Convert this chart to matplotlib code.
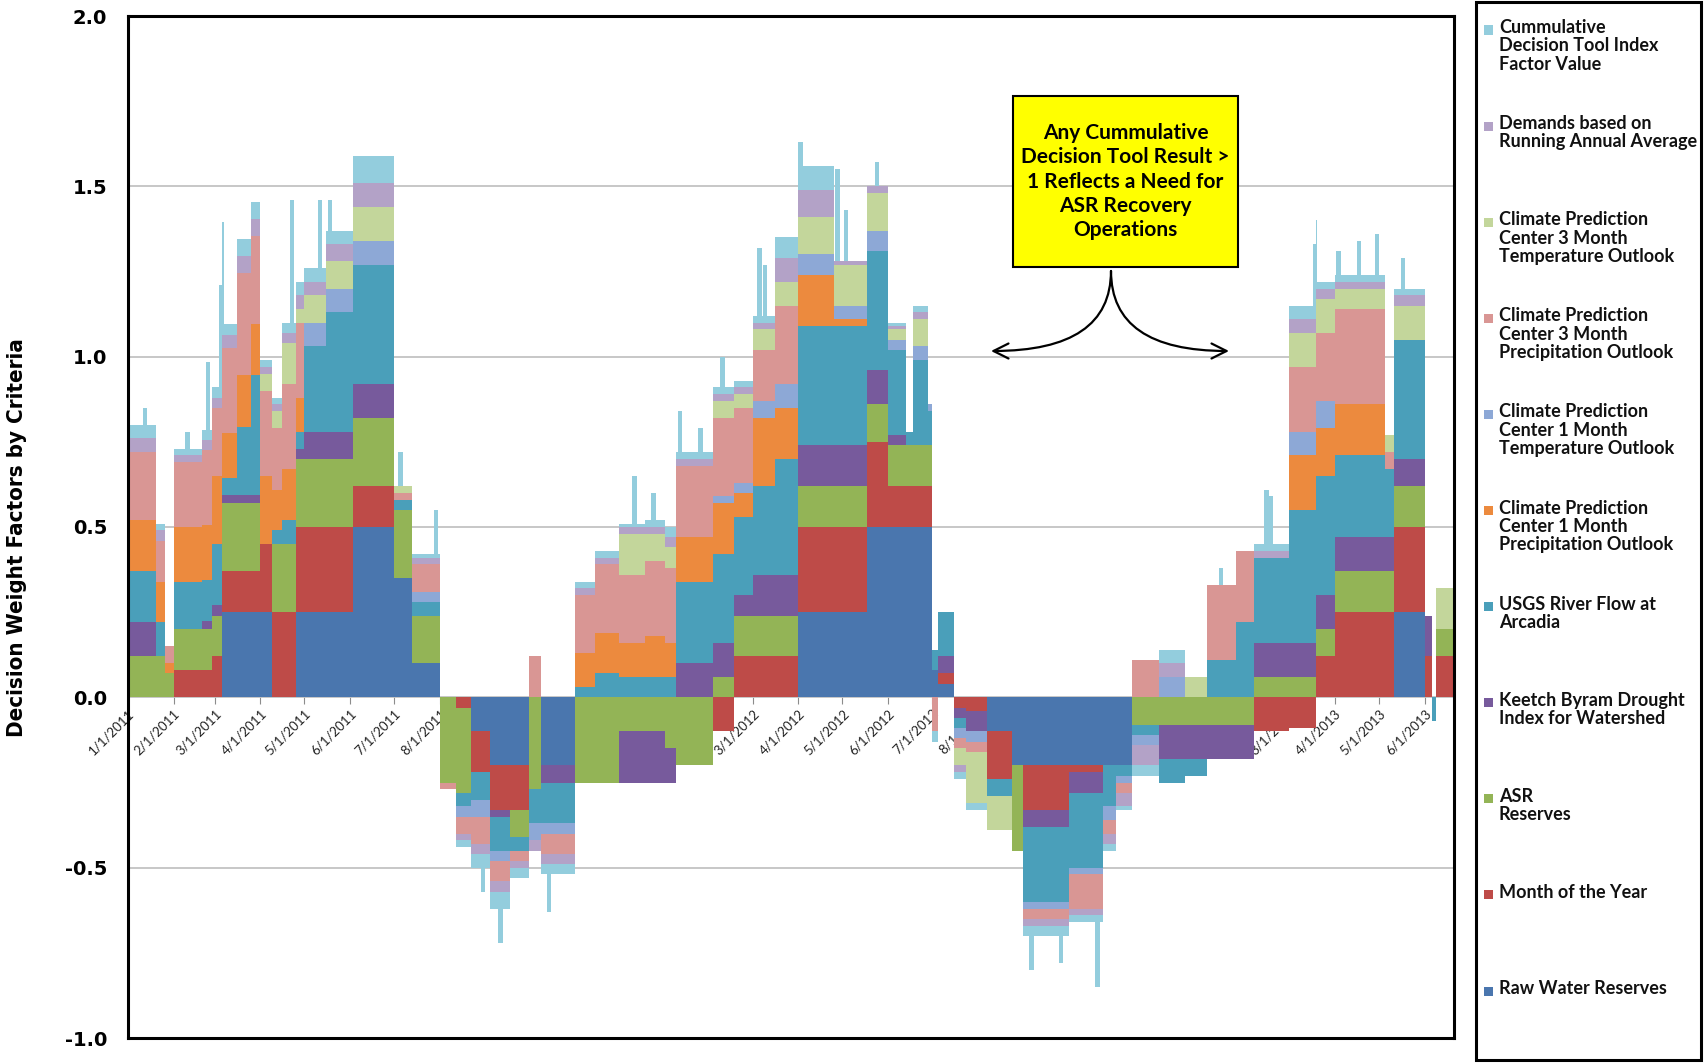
import numpy as np
import pandas as pd
import matplotlib
matplotlib.use('Agg')
import matplotlib.pyplot as plt
import matplotlib.dates as mdates
from matplotlib.patches import Rectangle
from matplotlib.ticker import FormatStrFormatter

# start date of each step (values hold until the next date)
step_dates = [
    '2011-01-01', '2011-01-20', '2011-01-26', '2011-02-01', '2011-02-20', '2011-02-27',
    '2011-03-06', '2011-03-16', '2011-03-26', '2011-04-01', '2011-04-09', '2011-04-16',
    '2011-04-25', '2011-05-01', '2011-05-16', '2011-06-03', '2011-07-01', '2011-07-13',
    '2011-08-01', '2011-08-12', '2011-08-22', '2011-09-04', '2011-09-18', '2011-10-01',
    '2011-10-09', '2011-11-01', '2011-11-15', '2011-12-01', '2011-12-19', '2012-01-01',
    '2012-01-09', '2012-02-03', '2012-02-17', '2012-03-01', '2012-03-16', '2012-04-01',
    '2012-04-25', '2012-05-18', '2012-06-01', '2012-06-13', '2012-06-18', '2012-06-28',
    '2012-07-01', '2012-07-05', '2012-07-16', '2012-07-24', '2012-08-07', '2012-08-24',
    '2012-09-01', '2012-10-02', '2012-10-25', '2012-11-03', '2012-11-14', '2012-12-02',
    '2012-12-20', '2013-01-04', '2013-01-24', '2013-02-05', '2013-03-01', '2013-03-19',
    '2013-04-01', '2013-05-05', '2013-05-11', '2013-06-01', '2013-06-06', '2013-06-09',
]
end_date = '2013-06-21'

raw_water = [0, 0, 0, 0, 0, 0, .25, .25, .25, .25, 0, 0,
             .25, .25, .25, .50, .35, .10, 0, 0, -.10, -.20, -.20, 0,
             -.20, 0, 0, 0, 0, 0, 0, 0, 0, 0, 0, .25,
             .25, .50, .50, .50, .50, .50, .08, .04, 0, 0, -.10, -.20,
             -.20, -.20, -.20, -.20, 0, 0, 0, 0, 0, 0, 0, 0,
             0, 0, .25, 0, 0, 0]
month_of_year = [0, 0, 0, .08, .08, .12, .12, .12, .12, .20, .25, .25,
                 .25, .25, .25, .12, 0, 0, 0, -.03, -.12, -.13, -.13, 0,
                 0, 0, 0, 0, 0, 0, 0, -.10, .12, .12, .12, .25,
                 .25, .25, .12, .12, .12, .12, 0, .03, -.03, -.04, -.14, 0,
                 -.13, -.02, 0, 0, 0, 0, 0, 0, 0, -.10, -.09, .12,
                 .25, .25, .25, .12, 0, .12]
asr_reserves = [.12, .12, .07, .12, .12, .12, .20, .20, .20, 0, .20, .20,
                .20, .20, .20, .20, .20, .14, -.25, -.25, 0, 0, -.08, -.27,
                0, -.25, -.25, -.10, -.10, -.15, -.20, .06, .12, .12, .12, .12,
                .12, .11, .12, .12, .12, .12, 0, 0, 0, 0, 0, -.25,
                0, 0, 0, 0, -.08, -.08, -.08, -.08, -.08, .06, .06, .08,
                .12, .12, .12, 0, 0, .08]
keetch_byram = [.10, 0, 0, 0, .025, .03, .025, .025, .025, 0, 0, 0,
                .03, .08, .08, .10, 0, 0, 0, 0, 0, -.02, 0, 0,
                -.05, 0, 0, -.15, -.15, -.10, .10, .10, .06, .12, .12, .12,
                .12, .10, .03, 0, 0, 0, 0, .05, -.03, -.06, 0, 0,
                -.05, -.06, 0, 0, 0, -.10, -.10, -.10, -.10, .10, .10, .10,
                .10, .10, .08, .12, 0, 0]
usgs_flow = [.15, .10, 0, .14, .12, .18, .05, .20, .35, 0, .04, .07,
             .05, .25, .35, .35, .03, .04, 0, -.04, -.08, -.10, -.04, -.10,
             -.12, .03, .07, .06, .06, .06, .24, .26, .23, .26, .34, .35,
             .35, .35, .25, .04, .25, .10, .06, .13, -.03, 0, -.05, 0,
             -.22, -.22, -.12, -.03, -.03, -.07, -.05, .11, .22, .25, .39, .35,
             .24, .20, .35, 0, -.07, 0]
cpc1_precip = [.15, .12, .03, .16, .16, .20, .13, .15, .15, .20, .12, .15,
               .10, 0, 0, 0, 0, 0, 0, 0, 0, 0, 0, 0,
               0, .10, .12, .10, .12, .10, .13, .15, .07, .20, .15, .15,
               .02, 0, 0, 0, 0, 0, 0, 0, 0, 0, 0, 0,
               0, 0, 0, 0, 0, 0, 0, 0, 0, 0, .16, .14,
               .15, 0, 0, 0, 0, 0]
cpc1_temp = [0, 0, 0, 0, 0, 0, 0, 0, 0, 0, 0, 0,
             0, .07, .07, .07, 0, .03, 0, -.03, -.05, -.03, 0, -.05,
             -.03, 0, 0, 0, 0, 0, 0, .02, .03, .05, .07, .06,
             .04, .06, .03, 0, .04, .02, 0, 0, -.03, -.03, 0, 0,
             -.02, -.02, -.04, -.02, -.03, .06, 0, 0, 0, 0, .07, .08,
             0, 0, 0, 0, 0, 0]
cpc3_precip = [.20, .12, .05, .19, .22, .20, .25, .30, .26, .25, .18, .25,
               .22, 0, 0, 0, .02, .08, -.02, -.05, -.08, -.06, -.03, .12,
               -.06, .17, .20, .20, .22, .22, .21, .23, .22, .15, .23, 0,
               0, 0, 0, 0, 0, 0, -.10, 0, -.03, -.03, 0, 0,
               -.03, -.10, -.04, -.03, .11, 0, 0, .22, .21, 0, .19, .20,
               .28, .05, 0, 0, 0, 0]
cpc3_temp = [0, 0, 0, 0, 0, 0, 0, 0, 0, .05, .05, .12,
             .04, .08, .08, .10, .02, 0, 0, 0, 0, 0, 0, 0,
             0, 0, 0, .12, .08, .06, 0, .05, .04, .06, .07, .11,
             .12, .11, .03, 0, .08, 0, 0, 0, -.05, -.15, -.10, 0,
             0, 0, 0, 0, 0, 0, .06, 0, 0, 0, .10, .10,
             .06, .05, .10, 0, 0, .12]
demands = [.04, .03, 0, .02, .03, .03, .04, .05, .05, .02, .02, .03,
           .04, .04, .05, .07, 0, .02, 0, -.02, -.03, -.03, -.02, -.03,
           -.03, .02, .02, .02, .02, .03, .02, .02, .02, .02, .07, .08,
           .01, .02, .01, 0, .02, 0, 0, 0, -.02, 0, 0, 0,
           -.02, -.02, -.03, -.04, -.06, .04, 0, 0, 0, .02, .04, .03,
           .02, 0, .03, 0, 0, 0]
cumulative = [.04, .02, 0, .02, .03, .03, .03, .05, .05, .02, .02, .03,
              .04, .04, .04, .08, 0, .01, 0, -.02, -.04, -.05, -.03, 0,
              -.03, .02, .02, .01, .02, .03, .02, .02, .02, .02, .06, .07,
              0, 0, .01, 0, .02, 0, -.03, 0, -.02, -.02, 0, 0,
              -.03, -.02, -.02, -.01, -.03, .04, 0, 0, 0, .02, .04, .02,
              .02, 0, .02, 0, 0, 0]

# short spikes of the cumulative factor lasting a few days (start date, extra value)
spike_dates = ['2011-01-11', '2011-02-09', '2011-02-23', '2011-03-04', '2011-04-21',
               '2011-05-10', '2011-05-17', '2011-07-04', '2011-07-28', '2011-08-29',
               '2011-09-10', '2011-10-13', '2011-12-10', '2011-12-23', '2012-01-10',
               '2012-01-24', '2012-02-08', '2012-03-04', '2012-03-08', '2012-04-01',
               '2012-04-26', '2012-05-02', '2012-05-23', '2012-09-05', '2012-09-25',
               '2012-10-20', '2013-01-12', '2013-02-12', '2013-02-15', '2013-03-17',
               '2013-04-02', '2013-04-16', '2013-04-28', '2013-05-16']
spike_sizes = [.05, .05, .20, .30, .36,
               .20, .09, .10, .13, -.07,
               -.10, -.11, .14, .08, .12,
               .07, .09, .20, .15, .07,
               .27, .15, .07, -.10, -.08,
               -.19, .05, .16, .14, .18,
               .07, .10, .12, .09]
spike_days = 3

series_names = [
    'Raw Water Reserves', 'Month of the Year', 'ASR\nReserves',
    'Keetch Byram Drought\nIndex for Watershed', 'USGS River Flow at\nArcadia',
    'Climate Prediction\nCenter 1 Month\nPrecipitation Outlook',
    'Climate Prediction\nCenter 1 Month\nTemperature Outlook',
    'Climate Prediction\nCenter 3 Month\nPrecipitation Outlook',
    'Climate Prediction\nCenter 3 Month\nTemperature Outlook',
    'Demands based on\nRunning Annual Average',
    'Cummulative\nDecision Tool Index\nFactor Value',
]

tick_dates = ['2011-%02d-01' % m for m in range(1, 13)] + \
             ['2012-%02d-01' % m for m in range(1, 13)] + \
             ['2013-%02d-01' % m for m in range(1, 7)]
tick_labels = ['1/1/2011', '2/1/2011', '3/1/2011', '4/1/2011', '5/1/2011', '6/1/2011',
               '7/1/2011', '8/1/2011', '9/1/2011', '10/1/2011', '11/1/2011', '12/1/2011',
               '1/1/2012', '2/1/2012', '3/1/2012', '4/1/2012', '5/1/2012', '6/1/2012',
               '7/1/2012', '8/1/2012', '9/1/2012', '10/1/2012', '11/1/2012', '12/1/2012',
               '1/1/2013', '2/1/2013', '3/1/2013', '4/1/2013', '5/1/2013', '6/1/2013']

note = 'Any Cummulative\nDecision Tool Result >\n1 Reflects a Need for\nASR Recovery\nOperations'

colors = ['#4A76AE', '#BE4B48', '#93B456', '#775A9C', '#4A9FBA', '#EC8A3E',
          '#8DA8D6', '#D99694', '#C3D69B', '#B3A2C7', '#93CDDD']

plt.rcParams['axes.unicode_minus'] = False

all_series = [raw_water, month_of_year, asr_reserves, keetch_byram, usgs_flow,
              cpc1_precip, cpc1_temp, cpc3_precip, cpc3_temp, demands, cumulative]

# common grid: step starts plus spike start/end days
step_x = mdates.date2num(pd.to_datetime(step_dates))
sp_start = mdates.date2num(pd.to_datetime(spike_dates))
sp_end = sp_start + spike_days
x = np.unique(np.concatenate([step_x, sp_start, sp_end]))
x_end = mdates.date2num(pd.Timestamp(end_date))
idx = np.searchsorted(step_x, x, side='right') - 1
vals = np.array(all_series, dtype=float)[:, idx]
for s0, s1, h in zip(sp_start, sp_end, spike_sizes):
    vals[-1, (x >= s0) & (x < s1)] += h
x = np.append(x, x_end)
vals = np.hstack([vals, vals[:, -1:]])

fig = plt.figure(figsize=(17.04, 10.63), dpi=100)
W, H = 1704.0, 1063.0
ax = fig.add_axes([128 / W, 25 / H, 1326 / W, 1022 / H])

# stack positives upward and negatives downward, then paint from the top layer down
pos_top = np.cumsum(np.clip(vals, 0, None), axis=0)
neg_top = np.cumsum(np.clip(vals, None, 0), axis=0)
for i in range(len(all_series) - 1, -1, -1):
    ax.fill_between(x, 0, pos_top[i], step='post', color=colors[i], lw=0, zorder=2)
    ax.fill_between(x, 0, neg_top[i], step='post', color=colors[i], lw=0, zorder=2)

ax.set_xlim(x[0], x[-1])
ax.set_ylim(-1, 2)
ax.set_yticks(np.arange(-1, 2.01, 0.5))
ax.yaxis.set_major_formatter(FormatStrFormatter('%.1f'))
ax.yaxis.grid(True, color='#BDBDBD', lw=1.2, zorder=1)
ax.set_axisbelow(True)
ax.tick_params(axis='x', bottom=False, labelbottom=False)
ax.tick_params(axis='y', length=0, pad=15, labelsize=14)
for lab in ax.get_yticklabels():
    lab.set_fontweight('bold')
for s in ax.spines.values():
    s.set_linewidth(2.2)
    s.set_color('black')

# date axis crossing at zero
sec = ax.secondary_xaxis(1 / 3)
sec.set_xticks(mdates.date2num(pd.to_datetime(tick_dates)))
sec.set_xticklabels(tick_labels, rotation=45, ha='right', rotation_mode='anchor',
                    fontsize=9.5, family='Lato', color='#222222')
sec.tick_params(axis='x', direction='out', length=5, color='#8C8C8C', pad=2)
for s in sec.spines.values():
    s.set_visible(False)

fig.text(17 / W, 1 - 538 / H, 'Decision Weight Factors by Criteria', rotation=90,
         ha='center', va='center', fontsize=16, fontweight='bold',
         family='DejaVu Sans', fontstretch='condensed')

# note box and arrows
fig.patches.append(Rectangle((1013 / W, 796 / H), 225 / W, 171 / H, transform=fig.transFigure,
                             fc='#FFFF00', ec='black', lw=1.5, zorder=5))
fig.text(1125.5 / W, 881.5 / H, note, ha='center', va='center', fontsize=15,
         fontweight='bold', family='Lato', linespacing=1.28, zorder=6)
for tip in [(991, 712), (1229, 712)]:
    ax.annotate('', xy=tip, xycoords='figure pixels', xytext=(1111, 792),
                textcoords='figure pixels',
                arrowprops=dict(arrowstyle='->,head_length=0.6,head_width=0.3', color='black',
                                lw=1.6, shrinkA=0, shrinkB=0, mutation_scale=18,
                                connectionstyle='angle3,angleA=90,angleB=0'))

# legend panel on the right
fig.patches.append(Rectangle((1476 / W, 3 / H), 225 / W, 1058 / H, transform=fig.transFigure,
                             fill=False, ec='black', lw=2.2, zorder=5))
for k, i in enumerate(range(len(all_series) - 1, -1, -1)):
    yc = 30 + 96.1 * k
    fig.patches.append(Rectangle((1484 / W, (H - yc - 4.5) / H), 9 / W, 9 / H,
                                 transform=fig.transFigure, fc=colors[i], ec='none', zorder=6))
    fig.text(1499 / W, (H - yc + 11) / H, series_names[i], ha='left', va='top',
             fontsize=13, fontweight='bold', family='Lato', color='#111111',
             linespacing=1.1, zorder=6)

fig.savefig('out.png', dpi=100)
